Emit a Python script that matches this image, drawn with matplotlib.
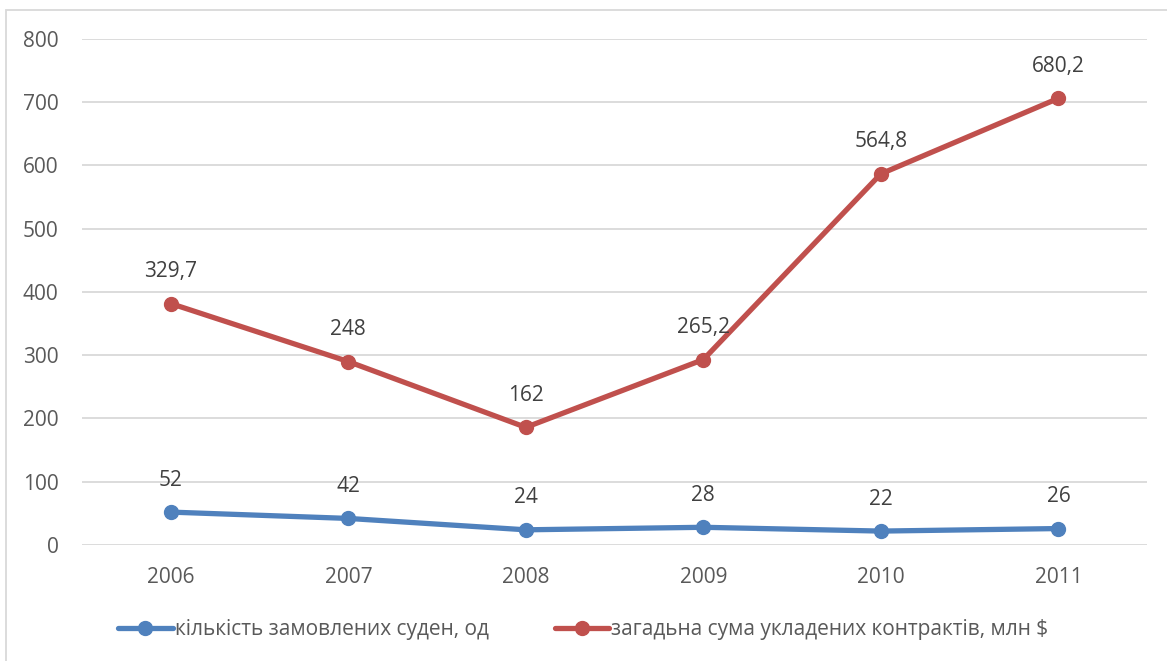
import matplotlib.pyplot as plt
import numpy as np
from matplotlib.patches import Rectangle

years = ['2006', '2007', '2008', '2009', '2010', '2011']
ships = [52, 42, 24, 28, 22, 26]
contracts = [329.7, 248, 162, 265.2, 564.8, 680.2]
ship_labels = ['52', '42', '24', '28', '22', '26']
contract_labels = ['329,7', '248', '162', '265,2', '564,8', '680,2']
names = ['кількість замовлених суден, од', 'загадьна сума укладених контрактів, млн $']

plt.rcParams['font.family'] = ['Open Sans', 'DejaVu Sans']

blue = '#4f81bd'
red = '#c0504d'
text_col = '#595959'

fig = plt.figure(figsize=(11.67, 6.61), dpi=100)
ax = fig.add_axes([0.0703, 0.1755, 0.9127, 0.7655])

# stacked line chart: second series sits on top of the first
x = np.arange(len(years))
stacked = np.array(ships) + np.array(contracts)

ax.plot(x, ships, color=blue, lw=3.8, marker='o', ms=10, label=names[0], solid_capstyle='round')
ax.plot(x, stacked, color=red, lw=3.8, marker='o', ms=10, label=names[1], solid_capstyle='round')

for xi, yi, s in zip(x, ships, ship_labels):
    ax.annotate(s, (xi, yi), xytext=(0, 23), textcoords='offset points',
                ha='center', va='center', fontsize=15, color='#404040')
for xi, yi, s in zip(x, stacked, contract_labels):
    ax.annotate(s, (xi, yi), xytext=(0, 23), textcoords='offset points',
                ha='center', va='center', fontsize=15, color='#404040')

ax.set_xlim(-0.5, 5.5)
ax.set_ylim(0, 800)
ax.set_yticks(np.arange(0, 801, 100))
ax.set_xticks(x)
ax.set_xticklabels(years)
ax.tick_params(length=0, labelsize=15, labelcolor=text_col)
ax.tick_params(axis='x', pad=16)
ax.tick_params(axis='y', pad=17)
ax.grid(axis='y', color='#d9d9d9', lw=1.3)
ax.set_axisbelow(True)
for sp in ax.spines.values():
    sp.set_visible(False)

fig.legend(loc='center', bbox_to_anchor=(0.5, 1 - 630 / 661), ncol=2, frameon=False,
           fontsize=15, labelcolor=text_col, handlelength=2.6, handletextpad=0.1,
           columnspacing=3.2)

# outer chart frame (cut off at right and bottom)
fig.patches.append(Rectangle((6 / 1167, -0.1), 1.2, 1 - 10 / 661 + 0.1,
                             transform=fig.transFigure, fill=False,
                             edgecolor='#d9d9d9', lw=1.3))

fig.savefig('out.png', dpi=100)
